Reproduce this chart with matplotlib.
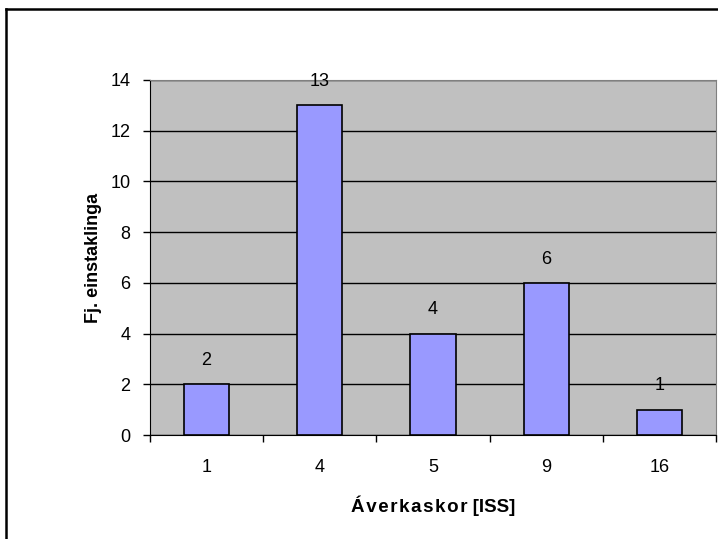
import matplotlib.pyplot as plt
from matplotlib.lines import Line2D

plt.rcParams['font.family'] = ['Liberation Sans', 'DejaVu Sans']

# ISS scores and number of individuals
categories = ['1', '4', '5', '9', '16']
counts = [2, 13, 4, 6, 1]
y_ticks = [0, 2, 4, 6, 8, 10, 12, 14]

fig = plt.figure(figsize=(7.18, 5.39), dpi=100)
ax = fig.add_axes([150 / 718, 1 - 435 / 539, 566 / 718, 355 / 539])

ax.set_facecolor('#C0C0C0')
ax.set_axisbelow(True)
ax.yaxis.grid(True, color='black', linewidth=1)

xs = list(range(len(categories)))
ax.bar(xs, counts, width=0.4, color='#9999FF', edgecolor='black', linewidth=1.2, zorder=3)

for x, c in zip(xs, counts):
    ax.annotate(str(c), (x, c), xytext=(0, 11), textcoords='offset points',
                ha='center', va='bottom', fontsize=13)

ax.set_xlim(-0.5, len(categories) - 0.5)
ax.set_ylim(0, 14)
ax.set_yticks(y_ticks)
ax.tick_params(axis='y', direction='out', length=5, width=1, labelsize=13, pad=9)

# category boundary ticks, labels in the middle
ax.set_xticks([i - 0.5 for i in range(len(categories) + 1)])
ax.set_xticklabels([])
ax.set_xticks(xs, minor=True)
ax.set_xticklabels(categories, minor=True, fontsize=13)
ax.tick_params(axis='x', which='major', direction='out', length=5, width=1)
ax.tick_params(axis='x', which='minor', length=0, pad=17)

for side in ['top', 'right']:
    ax.spines[side].set_color('#808080')
for side in ['left', 'bottom']:
    ax.spines[side].set_color('black')

xlabel = '\u200a'.join('Áverkaskor') + ' [ISS]'
ax.set_xlabel(xlabel, fontsize=13.5, fontweight='bold', labelpad=14)
ax.set_ylabel('Fj. einstaklinga', fontsize=13, fontweight='bold', labelpad=6)

# outer chart frame
fig.add_artist(Line2D([6 / 718, 6 / 718], [0, 1 - 9 / 539], color='black', linewidth=1.8))
fig.add_artist(Line2D([6 / 718, 1], [1 - 9 / 539, 1 - 9 / 539], color='black', linewidth=1.8))

fig.savefig('out.png', dpi=100)
